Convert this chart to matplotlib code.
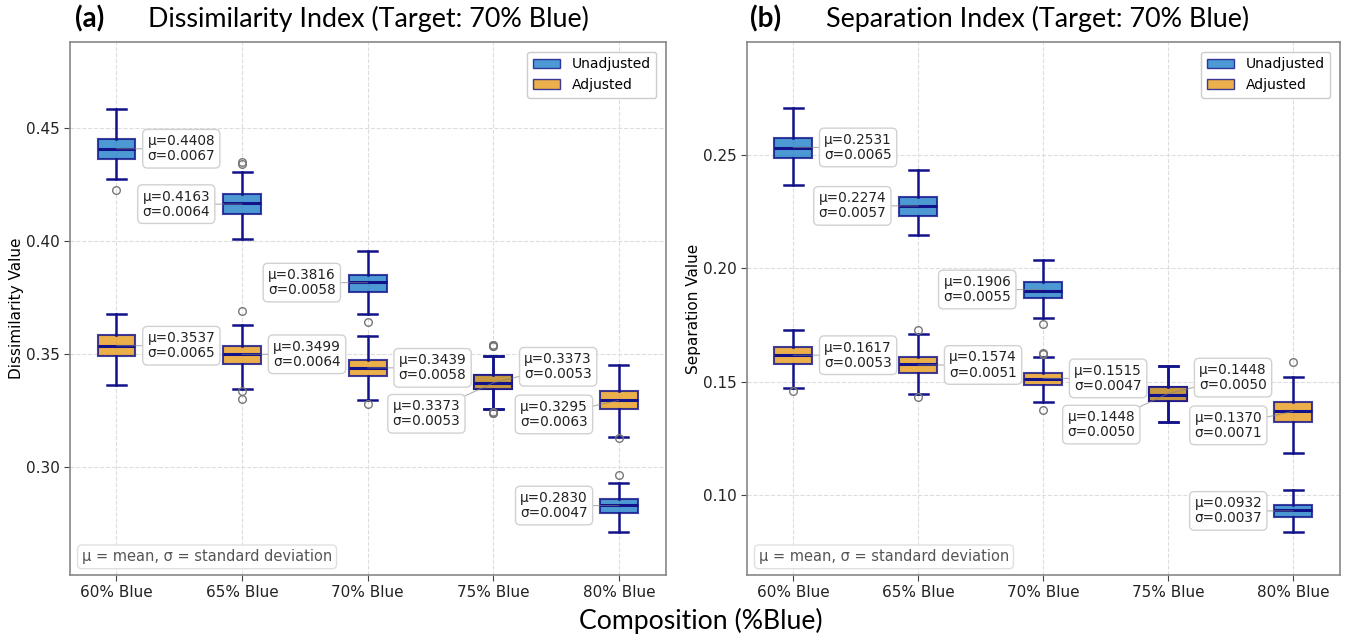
import matplotlib
matplotlib.use("Agg")
import matplotlib.pyplot as plt
from matplotlib.patches import Patch

plt.rcParams['font.family'] = ['DejaVu Sans']

# ---------------- data ----------------
categories = ['60% Blue', '65% Blue', '70% Blue', '75% Blue', '80% Blue']

# Dissimilarity - unadjusted
dis_u_med = [0.4407, 0.4166, 0.3819, 0.3372, 0.2833]
dis_u_q1 = [0.4363, 0.4118, 0.3774, 0.3346, 0.2796]
dis_u_q3 = [0.4453, 0.4206, 0.3848, 0.3408, 0.2858]
dis_u_lo = [0.4276, 0.4009, 0.3677, 0.3258, 0.2714]
dis_u_hi = [0.4585, 0.4307, 0.3954, 0.3492, 0.2929]
dis_u_fl = [[0.4226], [0.4348, 0.4342], [0.3640], [0.3534, 0.3541, 0.3246, 0.3239], [0.2966]]
dis_u_mean = [0.4408, 0.4163, 0.3816, 0.3373, 0.2830]
dis_u_std = [0.0067, 0.0064, 0.0058, 0.0053, 0.0047]

# Dissimilarity - adjusted
dis_a_med = [0.3537, 0.3500, 0.3438, 0.3372, 0.3295]
dis_a_q1 = [0.3492, 0.3458, 0.3401, 0.3346, 0.3257]
dis_a_q3 = [0.3585, 0.3537, 0.3475, 0.3408, 0.3335]
dis_a_lo = [0.3364, 0.3345, 0.3298, 0.3258, 0.3135]
dis_a_hi = [0.3678, 0.3627, 0.3580, 0.3492, 0.3453]
dis_a_fl = [[], [0.3689, 0.3335, 0.3301], [0.3279], [0.3534, 0.3541, 0.3246, 0.3239], [0.3128]]
dis_a_mean = [0.3537, 0.3499, 0.3439, 0.3373, 0.3295]
dis_a_std = [0.0065, 0.0064, 0.0058, 0.0053, 0.0063]

# Separation - unadjusted
sep_u_med = [0.2530, 0.2272, 0.1900, 0.1444, 0.0934]
sep_u_q1 = [0.2485, 0.2230, 0.1867, 0.1414, 0.0907]
sep_u_q3 = [0.2573, 0.2312, 0.1939, 0.1478, 0.0956]
sep_u_lo = [0.2367, 0.2145, 0.1782, 0.1322, 0.0838]
sep_u_hi = [0.2706, 0.2431, 0.2035, 0.1569, 0.1026]
sep_u_fl = [[], [], [0.1753], [], []]
sep_u_mean = [0.2531, 0.2274, 0.1906, 0.1448, 0.0932]
sep_u_std = [0.0065, 0.0057, 0.0055, 0.0050, 0.0037]

# Separation - adjusted
sep_a_med = [0.1616, 0.1579, 0.1513, 0.1444, 0.1372]
sep_a_q1 = [0.1579, 0.1540, 0.1484, 0.1414, 0.1322]
sep_a_q3 = [0.1654, 0.1609, 0.1540, 0.1478, 0.1413]
sep_a_lo = [0.1474, 0.1445, 0.1412, 0.1322, 0.1187]
sep_a_hi = [0.1729, 0.1712, 0.1610, 0.1569, 0.1520]
sep_a_fl = [[0.1459], [0.1728, 0.1431], [0.1628, 0.1622, 0.1375], [], [0.1588]]
sep_a_mean = [0.1617, 0.1574, 0.1515, 0.1448, 0.1370]
sep_a_std = [0.0053, 0.0051, 0.0047, 0.0050, 0.0071]

# ---------------- style ----------------
W, H = 1348, 639
BLUE = '#2080c8'
ORANGE = '#e69b1e'
EDGE = '#12128a'
TITLE_FONT = ['Lato', 'DejaVu Sans']

# label offsets (pixels) and alignment, per category
u_off = [(31, 0, 'left'), (-32, 0, 'right'), (-32, 0, 'right'), (-33, -31, 'right'), (-31, 0, 'right')]
a_off = [(31, 0, 'left'), (31, 0, 'left'), (31, 0, 'left'), (31, 16, 'left'), (-31, -14, 'right')]


def stats(med, q1, q3, lo, hi, fl):
    return [dict(med=m, q1=a, q3=b, whislo=l, whishi=h, fliers=f)
            for m, a, b, l, h, f in zip(med, q1, q3, lo, hi, fl)]


def draw(ax, st, color):
    ax.bxp(st, positions=range(len(categories)), widths=0.3, patch_artist=True,
           boxprops=dict(facecolor=color, edgecolor=EDGE, linewidth=1.5, alpha=0.8),
           whiskerprops=dict(color=EDGE, linewidth=1.8),
           capprops=dict(color=EDGE, linewidth=1.8),
           medianprops=dict(color=EDGE, linewidth=2.2),
           flierprops=dict(marker='o', markerfacecolor='none', markeredgecolor='#777777',
                           markersize=5.5, markeredgewidth=1.0))
    for p in ax.patches:
        p.set_edgecolor(EDGE)


def annotate(ax, means, stds, offs):
    for i, (m, s) in enumerate(zip(means, stds)):
        dx, dy, ha = offs[i]
        ax.annotate(f'μ={m:.4f}\nσ={s:.4f}', xy=(i, m), xytext=(dx, dy),
                    textcoords='offset pixels', ha=ha, va='center', fontsize=9.8,
                    color='#222222', zorder=6, linespacing=1.1,
                    bbox=dict(boxstyle='round,pad=0.35', fc='white', ec='#cccccc', alpha=0.9),
                    arrowprops=dict(arrowstyle='-', color='gray', lw=0.8, alpha=0.6,
                                    shrinkA=0, shrinkB=0))


fig = plt.figure(figsize=(W / 100, H / 100), dpi=100)
ax1 = fig.add_axes([70 / W, 1 - 575 / H, 596 / W, 533 / H])
ax2 = fig.add_axes([747 / W, 1 - 575 / H, 593 / W, 533 / H])

panels = [
    (ax1, stats(dis_u_med, dis_u_q1, dis_u_q3, dis_u_lo, dis_u_hi, dis_u_fl),
     stats(dis_a_med, dis_a_q1, dis_a_q3, dis_a_lo, dis_a_hi, dis_a_fl),
     dis_u_mean, dis_u_std, dis_a_mean, dis_a_std, 'Dissimilarity Value', (0.2523, 0.4880)),
    (ax2, stats(sep_u_med, sep_u_q1, sep_u_q3, sep_u_lo, sep_u_hi, sep_u_fl),
     stats(sep_a_med, sep_a_q1, sep_a_q3, sep_a_lo, sep_a_hi, sep_a_fl),
     sep_u_mean, sep_u_std, sep_a_mean, sep_a_std, 'Separation Value', (0.0650, 0.2995)),
]

for ax, su, sa, um, us, am, as_, ylab, ylim in panels:
    ax.set_axisbelow(True)
    ax.grid(True, linestyle='--', color='#dddddd', linewidth=0.8)
    draw(ax, su, BLUE)
    draw(ax, sa, ORANGE)
    annotate(ax, um, us, u_off)
    annotate(ax, am, as_, a_off)
    ax.set_xlim(-0.37, 4.375)
    ax.set_ylim(*ylim)
    ax.set_xticks(range(len(categories)))
    ax.set_xticklabels(categories, fontsize=11)
    ax.tick_params(axis='y', labelsize=11)
    ax.tick_params(colors='#444444', labelcolor='#222222', length=4)
    ax.set_ylabel(ylab, fontsize=11, labelpad=1.5)
    for sp in ax.spines.values():
        sp.set_color('#888888')
        sp.set_linewidth(1.2)
    handles = [Patch(facecolor=BLUE, edgecolor=EDGE, alpha=0.8, label='Unadjusted'),
               Patch(facecolor=ORANGE, edgecolor=EDGE, alpha=0.8, label='Adjusted')]
    leg = ax.legend(handles=handles, loc='upper right', fontsize=10, frameon=True,
                    fancybox=True, framealpha=1.0, borderaxespad=0.7)
    leg.get_frame().set_edgecolor('#cccccc')
    ax.text(0.02, 0.02, 'μ = mean, σ = standard deviation', transform=ax.transAxes,
            fontsize=10.5, color='#555555', ha='left', va='bottom',
            bbox=dict(boxstyle='round,pad=0.3', fc='white', ec='#dddddd', alpha=0.9))

fig.text(75 / W, 1 - 19 / H, '(a)', fontsize=20, fontweight='bold', family=TITLE_FONT, va='center')
fig.text(148 / W, 1 - 19 / H, 'Dissimilarity Index (Target: 70% Blue)', fontsize=19.4,
         family=TITLE_FONT, va='center')
fig.text(750 / W, 1 - 19 / H, '(b)', fontsize=20, fontweight='bold', family=TITLE_FONT, va='center')
fig.text(826 / W, 1 - 19 / H, 'Separation Index (Target: 70% Blue)', fontsize=19.4,
         family=TITLE_FONT, va='center')
fig.text(701 / W, 1 - 621 / H, 'Composition (%Blue)', fontsize=19.2, family=TITLE_FONT,
         ha='center', va='center')

fig.savefig('out.png', dpi=100)
